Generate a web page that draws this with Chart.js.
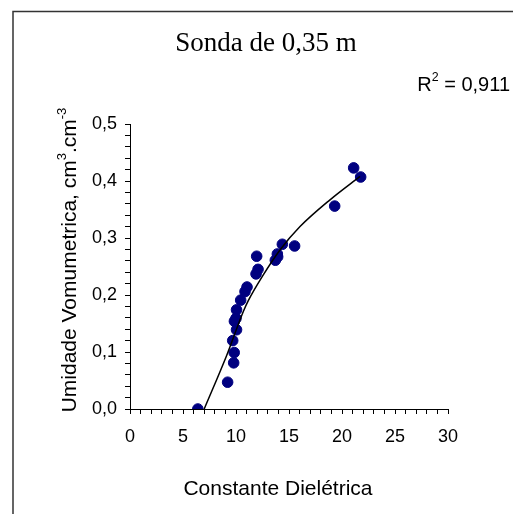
<!DOCTYPE html>
<html lang="pt">
<head>
    <meta charset="UTF-8">
    <title>Sonda de 0,35 m</title>
    <script src="https://cdn.jsdelivr.net/npm/chart.js@4/dist/chart.umd.min.js"></script>
    <style>
        html, body { margin: 0; padding: 0; background: #fff; }
        canvas { display: block; }
    </style>
</head>
<body>
    <canvas id="sonda" width="513" height="514"></canvas>

    <script>
        // pontos medidos
        const constante = [6.4, 9.21, 9.78, 9.83, 9.69, 10.05, 9.85, 10.0, 10.05, 10.44, 10.85, 11.04, 11.89, 12.08, 11.95, 13.71, 13.93, 13.9, 14.37, 15.53, 19.31, 21.1, 21.76];
        const umidade = [0, 0.047, 0.081, 0.099, 0.120, 0.139, 0.154, 0.159, 0.174, 0.191, 0.206, 0.214, 0.237, 0.245, 0.268, 0.261, 0.267, 0.272, 0.289, 0.286, 0.356, 0.423, 0.407];

        // linha de tendencia
        const trendX = [7.0, 9.1, 10.69, 11.16, 12.5, 14.15, 16.04, 18.87, 21.7];
        const trendY = [0, 0.093, 0.171, 0.19, 0.233, 0.279, 0.32, 0.367, 0.408];

        const titulo = "Sonda de 0,35 m";
        const r2 = "0,911";

        const pontos = constante.map((x, i) => ({x: x, y: umidade[i]}));
        const tendencia = trendX.map((x, i) => ({x: x, y: trendY[i]}));

        // desenha texto com partes sobrescritas
        function drawParts(ctx, parts, size, family) {
            let w = 0;
            parts.forEach(p => {
                ctx.font = (p.sup ? size * 0.62 : size) + "px " + family;
                w += ctx.measureText(p.t).width;
            });
            return w;
        }
        function fillParts(ctx, parts, x, y, size, family) {
            parts.forEach(p => {
                ctx.font = (p.sup ? size * 0.62 : size) + "px " + family;
                ctx.fillText(p.t, x, p.sup ? y - size * 0.38 : y);
                x += ctx.measureText(p.t).width;
            });
        }

        const textos = {
            id: 'textos',
            afterDraw(chart) {
                const ctx = chart.ctx;
                ctx.save();
                // moldura
                ctx.strokeStyle = '#333';
                ctx.lineWidth = 1.5;
                ctx.beginPath();
                ctx.moveTo(13, 514);
                ctx.lineTo(13, 11.5);
                ctx.lineTo(514, 11.5);
                ctx.stroke();

                ctx.fillStyle = '#000';
                ctx.textBaseline = 'middle';
                ctx.textAlign = 'center';
                ctx.font = "27px 'Liberation Serif', 'Times New Roman', serif";
                ctx.fillText(titulo, 266, 44);

                ctx.textAlign = 'left';
                const sans = "'Liberation Sans', Arial, sans-serif";
                const rParts = [{t: 'R'}, {t: '2', sup: true}, {t: ' = ' + r2}];
                const rw = drawParts(ctx, rParts, 20, sans);
                fillParts(ctx, rParts, 510 - rw, 85, 20, sans);

                ctx.textAlign = 'center';
                ctx.font = "21px " + sans;
                ctx.fillText('Constante Dielétrica', 278, 489);

                ctx.translate(70, 260);
                ctx.rotate(-Math.PI / 2);
                ctx.textAlign = 'left';
                const yParts = [{t: 'Umidade Vomumetrica, cm'}, {t: '3', sup: true}, {t: '.cm'}, {t: '-3', sup: true}];
                const yw = drawParts(ctx, yParts, 21, sans);
                fillParts(ctx, yParts, -yw / 2, 0, 21, sans);
                ctx.restore();
            }
        };

        const tickFont = {family: "'Liberation Sans', Arial, sans-serif", size: 18};

        const chart = new Chart(document.getElementById('sonda').getContext('2d'), {
            type: 'scatter',
            data: {
                datasets: [{
                    type: 'line',
                    data: tendencia,
                    borderColor: '#000',
                    borderWidth: 1.5,
                    pointRadius: 0,
                    fill: false,
                    cubicInterpolationMode: 'monotone',
                    order: 0
                }, {
                    data: pontos,
                    backgroundColor: '#000080',
                    borderColor: '#000080',
                    pointRadius: 5.3,
                    order: 1
                }]
            },
            options: {
                responsive: false,
                animation: false,
                layout: {padding: {left: 0, right: 65, top: 124, bottom: 0}},
                plugins: {legend: {display: false}, tooltip: {enabled: false}},
                scales: {
                    x: {
                        type: 'linear',
                        min: 0,
                        max: 30,
                        afterFit: s => { s.height = 105; },
                        border: {color: '#000', width: 1},
                        grid: {drawOnChartArea: false, drawTicks: true, tickLength: 5, color: '#000'},
                        ticks: {
                            stepSize: 1,
                            autoSkip: false,
                            maxRotation: 0,
                            color: '#000',
                            font: tickFont,
                            padding: 12,
                            callback: v => (v % 5 === 0 ? String(v) : '')
                        }
                    },
                    y: {
                        type: 'linear',
                        min: 0,
                        max: 0.5,
                        afterFit: s => { s.width = 130; },
                        border: {color: '#000', width: 1},
                        grid: {drawOnChartArea: false, drawTicks: true, tickLength: 5, color: '#000'},
                        ticks: {
                            stepSize: 0.02,
                            autoSkip: false,
                            color: '#000',
                            font: tickFont,
                            padding: 8,
                            callback: v => {
                                const c = Math.round(v * 100);
                                return c % 10 === 0 ? (c / 100).toFixed(1).replace('.', ',') : '';
                            }
                        }
                    }
                }
            },
            plugins: [textos]
        });
    </script>
</body>
</html>
